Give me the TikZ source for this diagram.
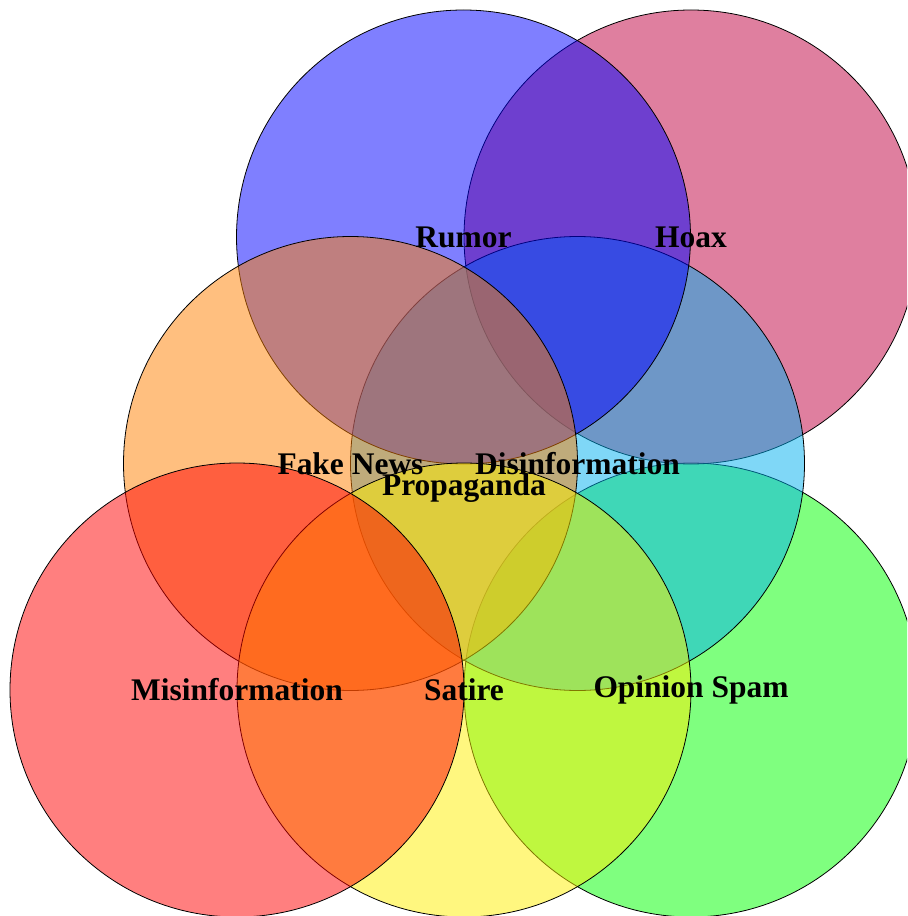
\documentclass[tikz,border=0pt]{standalone}
\usepackage{fontspec}
\setmainfont{Liberation Serif}
\definecolor{skyfill}{RGB}{0,176,240}
\definecolor{hoaxfill}{RGB}{191,0,64}
\definecolor{satfill}{RGB}{255,240,0}
\begin{document}
\begin{tikzpicture}[x=0.75pt,y=-0.75pt,
  setdisc/.style={circle,draw=black,line width=0.6pt,fill=#1,fill opacity=0.5,
                  minimum size=340.5pt,inner sep=0pt},
  setlabel/.style={font=\fontsize{23.6pt}{26pt}\selectfont\bfseries,inner sep=0pt,text=black}]
  \useasboundingbox (0,0) rectangle (907,916);
  \clip (0,0) rectangle (907,916);
  % discs, in stacking order
  \node[setdisc=green]    (opspam) at (691,690) {};
  \node[setdisc=hoaxfill] (hoax)   at (691,237) {};
  \node[setdisc=skyfill]  (disinf) at (577.5,463.5) {};
  \node[setdisc=blue]     (rumor)  at (463.5,237) {};
  \node[setdisc=orange]   (fake)   at (350.5,463.5) {};
  \node[setdisc=satfill]  (satire) at (464,690) {};
  \node[setdisc=red]      (misinf) at (237,690) {};
  % labels
  \node[setlabel] (lrumor)  at (rumor)  {Rumor};
  \node[setlabel] (lhoax)   at (hoax)   {Hoax};
  \node[setlabel] (lfake)   at (fake)   {Fake News};
  \node[setlabel] (ldisinf) at (disinf) {Disinformation};
  \node[setlabel] (lprop)   at (464,488) {Propaganda};
  \node[setlabel] (lmisinf) at (misinf) {Misinformation};
  \node[setlabel] (lsatire) at (satire) {Satire};
  \node[setlabel] (lopspam) at (opspam) {Opinion Spam};
\end{tikzpicture}
\end{document}
